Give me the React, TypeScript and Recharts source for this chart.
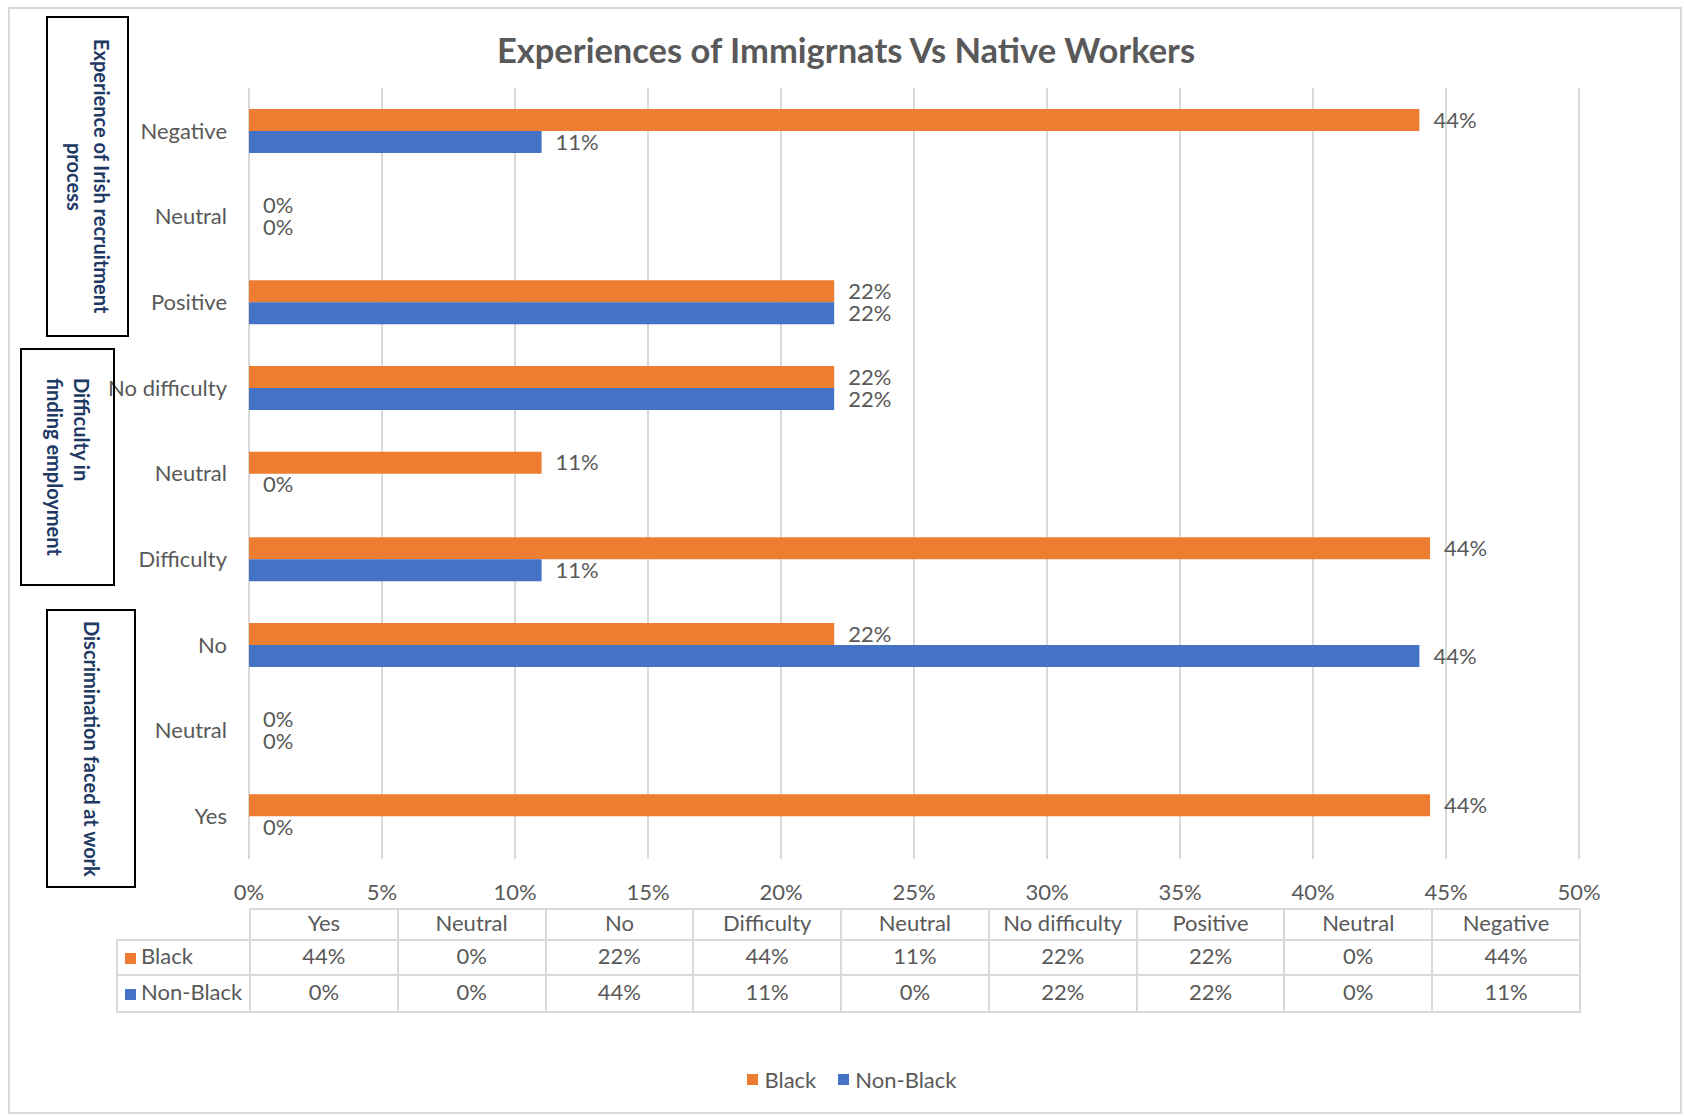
import React from "react";
import {
  BarChart,
  Bar,
  XAxis,
  YAxis,
  CartesianGrid,
  LabelList,
  Legend,
} from "recharts";

// source order, as in the data table (excel draws the first one at the bottom)
const categories = [
  "Yes",
  "Neutral",
  "No",
  "Difficulty",
  "Neutral",
  "No difficulty",
  "Positive",
  "Neutral",
  "Negative",
];
const blackValues = [0.444, 0, 0.22, 0.444, 0.11, 0.22, 0.22, 0, 0.44];
const nonBlackValues = [0, 0, 0.44, 0.11, 0, 0.22, 0.22, 0, 0.11];
const xTicks = [0, 0.05, 0.1, 0.15, 0.2, 0.25, 0.3, 0.35, 0.4, 0.45, 0.5];
const seriesNames = ["Black", "Non-Black"];
const groupLabels = [
  ["Experience of Irish recruitment", "process"],
  ["Difficulty in", "finding employment"],
  ["Discrimination faced at work"],
];

const BLACK = "#ED7D31";
const NON_BLACK = "#4472C4";
const TEXT = "#595959";
const GRID = "#d9d9d9";
const NAVY = "#203864";
const FONT = "Lato, 'Open Sans', sans-serif";
const FS = 22;

const W = 1684;
const H = 1116;
const PLOT_LEFT = 249;
const PLOT_RIGHT = 1579;
const PLOT_TOP = 88;
const PLOT_BOTTOM = 859;

const chartData = categories
  .map((name, i) => ({ name, black: blackValues[i], nonBlack: nonBlackValues[i] }))
  .reverse();

const pct = (v: number) => `${Math.round(Number(v) * 100)}%`;

// boxes drawn over the category axis
const groupBoxes = [
  { left: 46, top: 16, width: 83, height: 321, align: "center" },
  { left: 20, top: 348, width: 95, height: 238, align: "start" },
  { left: 46, top: 609, width: 90, height: 279, align: "center" },
];

function DataTable() {
  const colW = (PLOT_RIGHT - PLOT_LEFT) / categories.length;
  const cell: React.CSSProperties = {
    border: `2px solid ${GRID}`,
    textAlign: "center",
    padding: "0 0 4px 0",
    whiteSpace: "nowrap",
  };
  const rows = [
    { name: seriesNames[0], color: BLACK, values: blackValues },
    { name: seriesNames[1], color: NON_BLACK, values: nonBlackValues },
  ];
  return (
    <table
      style={{
        position: "absolute",
        left: 116,
        top: 908,
        borderCollapse: "collapse",
        tableLayout: "fixed",
        width: PLOT_RIGHT - 116,
        fontFamily: FONT,
        fontSize: FS,
        lineHeight: "22px",
        color: TEXT,
      }}
    >
      <colgroup>
        <col style={{ width: PLOT_LEFT - 116 }} />
        {categories.map((_, i) => (
          <col key={i} style={{ width: colW }} />
        ))}
      </colgroup>
      <tbody>
        <tr style={{ height: 31 }}>
          <td style={{ padding: 0 }} />
          {categories.map((c, i) => (
            <td key={i} style={cell}>
              {c}
            </td>
          ))}
        </tr>
        {rows.map((r, ri) => (
          <tr key={r.name} style={{ height: ri === 0 ? 35 : 37 }}>
            <td style={{ ...cell, textAlign: "left", paddingLeft: 7 }}>
              <span
                style={{
                  display: "inline-block",
                  width: 11,
                  height: 11,
                  background: r.color,
                  marginRight: 5,
                }}
              />
              {r.name}
            </td>
            {r.values.map((v, i) => (
              <td key={i} style={cell}>
                {pct(v)}
              </td>
            ))}
          </tr>
        ))}
      </tbody>
    </table>
  );
}

export default function App() {
  return (
    <div
      style={{
        position: "absolute",
        left: 0,
        top: 0,
        width: W,
        height: H,
        background: "#fff",
        fontFamily: FONT,
      }}
    >
      <div
        style={{
          position: "absolute",
          left: 8,
          top: 7,
          width: 1674,
          height: 1107,
          border: `2px solid ${GRID}`,
          boxSizing: "border-box",
        }}
      />
      <div
        style={{
          position: "absolute",
          left: 0,
          top: 29,
          width: 1692,
          textAlign: "center",
          fontSize: 34.5,
          lineHeight: "42px",
          fontWeight: 700,
          color: TEXT,
        }}
      >
        Experiences of Immigrnats Vs Native Workers
      </div>

      <div style={{ position: "absolute", left: 0, top: 0 }}>
        <BarChart
          width={W}
          height={H}
          data={chartData}
          layout="vertical"
          barSize={22}
          barGap={0}
          margin={{ top: PLOT_TOP, right: W - PLOT_RIGHT, bottom: H - PLOT_BOTTOM - 30, left: 0 }}
        >
          <CartesianGrid horizontal={false} stroke={GRID} strokeWidth={2} />
          <XAxis
            type="number"
            domain={[0, 0.5]}
            ticks={xTicks}
            tickFormatter={pct}
            axisLine={false}
            tickLine={false}
            height={30}
            tickMargin={19}
            interval={0}
            tick={{ fill: TEXT, fontSize: FS, fontFamily: FONT }}
          />
          <YAxis
            type="category"
            dataKey="name"
            width={PLOT_LEFT}
            axisLine={false}
            tickLine={false}
            tickMargin={16}
            interval={0}
            tick={{ fill: TEXT, fontSize: FS, fontFamily: FONT }}
          />
          <Legend
            verticalAlign="middle"
            align="center"
            layout="horizontal"
            wrapperStyle={{ top: 1066, left: 0, width: 1704 }}
            content={(props: any) => (
              <div
                style={{
                  display: "flex",
                  justifyContent: "center",
                  gap: 22,
                  fontFamily: FONT,
                  fontSize: FS,
                  color: TEXT,
                }}
              >
                {(props.payload || []).map((p: any) => (
                  <span key={p.value} style={{ display: "flex", alignItems: "center" }}>
                    <span
                      style={{
                        width: 11,
                        height: 11,
                        background: p.color,
                        marginRight: 6,
                      }}
                    />
                    {p.value}
                  </span>
                ))}
              </div>
            )}
          />
          <Bar
            dataKey="black"
            name={seriesNames[0]}
            fill={BLACK}
            minPointSize={0.01}
            isAnimationActive={false}
          >
            <LabelList
              dataKey="black"
              position="right"
              offset={14}
              formatter={pct}
              fill={TEXT}
              fontSize={FS}
              fontFamily={FONT}
            />
          </Bar>
          <Bar
            dataKey="nonBlack"
            name={seriesNames[1]}
            fill={NON_BLACK}
            minPointSize={0.01}
            isAnimationActive={false}
          >
            <LabelList
              dataKey="nonBlack"
              position="right"
              offset={14}
              formatter={pct}
              fill={TEXT}
              fontSize={FS}
              fontFamily={FONT}
            />
          </Bar>
        </BarChart>
      </div>

      <DataTable />

      {groupBoxes.map((b, i) => (
        <div
          key={i}
          style={{
            position: "absolute",
            left: b.left,
            top: b.top,
            width: b.width,
            height: b.height,
            border: "2px solid #000",
            boxSizing: "border-box",
            writingMode: "vertical-rl",
            display: "flex",
            alignItems: "center",
            justifyContent: b.align === "start" ? "flex-start" : "center",
            paddingInlineStart: b.align === "start" ? 28 : 0,
            textAlign: b.align === "start" ? "start" : "center",
            fontSize: 20,
            lineHeight: "27px",
            fontWeight: 700,
            color: NAVY,
            whiteSpace: "nowrap",
          }}
        >
          <div>
            {groupLabels[i].map((line, j) => (
              <div key={j}>{line}</div>
            ))}
          </div>
        </div>
      ))}
    </div>
  );
}
